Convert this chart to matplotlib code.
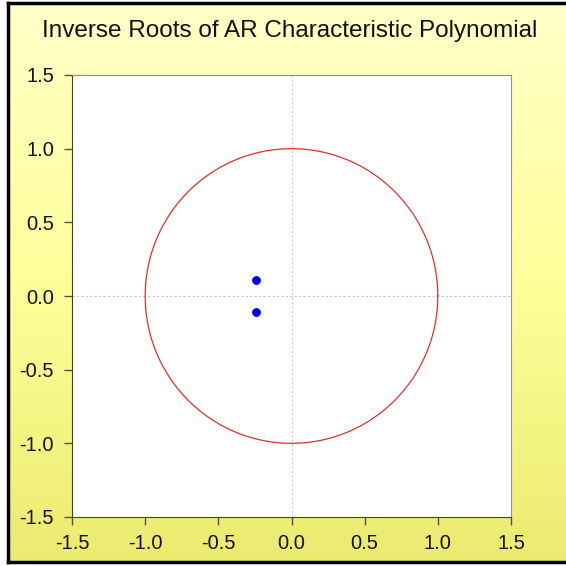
import numpy as np
import matplotlib.pyplot as plt
from matplotlib.colors import LinearSegmentedColormap

# inverse roots of the AR polynomial (complex pair)
root_re = [-0.24, -0.24]
root_im = [0.11, -0.11]

ticks = [-1.5, -1.0, -0.5, 0.0, 0.5, 1.0, 1.5]
tick_labels = ['-1.5', '-1.0', '-0.5', '0.0', '0.5', '1.0', '1.5']

plt.rcParams['font.family'] = ['Liberation Sans', 'DejaVu Sans']

fig = plt.figure(figsize=(5.66, 5.66), dpi=100, facecolor='white')

# yellow gradient background with black frame
bg = fig.add_axes([7.5/566, 4/566, 1 - 7.5/566 + 0.01, 1 - 7/566], zorder=0)
cmap = LinearSegmentedColormap.from_list('yl', ['#ebeb70', '#ffff9a', '#ffffc8'])
grad = np.linspace(0, 1, 256).reshape(-1, 1)
bg.imshow(grad, aspect='auto', cmap=cmap, origin='lower', extent=[0, 1, 0, 1])
bg.set_xticks([])
bg.set_yticks([])
for s in ['left', 'top', 'bottom']:
    bg.spines[s].set_linewidth(2.5)
    bg.spines[s].set_color('black')
bg.spines['right'].set_visible(False)

ax = fig.add_axes([72/566, 1 - 517/566, (511 - 72)/566, (517 - 75)/566], zorder=1)
ax.set_facecolor('white')

t = np.linspace(0, 2*np.pi, 400)
ax.plot(np.cos(t), np.sin(t), color='#e03030', lw=0.9)
ax.axhline(0, color='#c8c8c8', lw=0.8, ls=(0, (2, 2)), zorder=0)
ax.axvline(0, color='#c8c8c8', lw=0.8, ls=(0, (2, 2)), zorder=0)
ax.scatter(root_re, root_im, s=28, color='#0000ff', zorder=3)

ax.set_xlim(-1.5, 1.5)
ax.set_ylim(-1.5, 1.5)
ax.set_xticks(ticks)
ax.set_xticklabels(tick_labels)
ax.set_yticks(ticks)
ax.set_yticklabels(tick_labels)
ax.tick_params(direction='out', length=6, width=1, colors='#505050',
               labelcolor='#111111', labelsize=14.5)
ax.tick_params(axis='x', pad=6)
ax.tick_params(axis='y', pad=7)
for s in ['left', 'bottom']:
    ax.spines[s].set_color('#404040')
for s in ['top', 'right']:
    ax.spines[s].set_color('#909090')

fig.text(290/566, 1 - 31/566, 'Inverse Roots of AR Characteristic Polynomial',
         ha='center', va='center', fontsize=17.5, color='#111111')

fig.savefig('out.png', dpi=100)
